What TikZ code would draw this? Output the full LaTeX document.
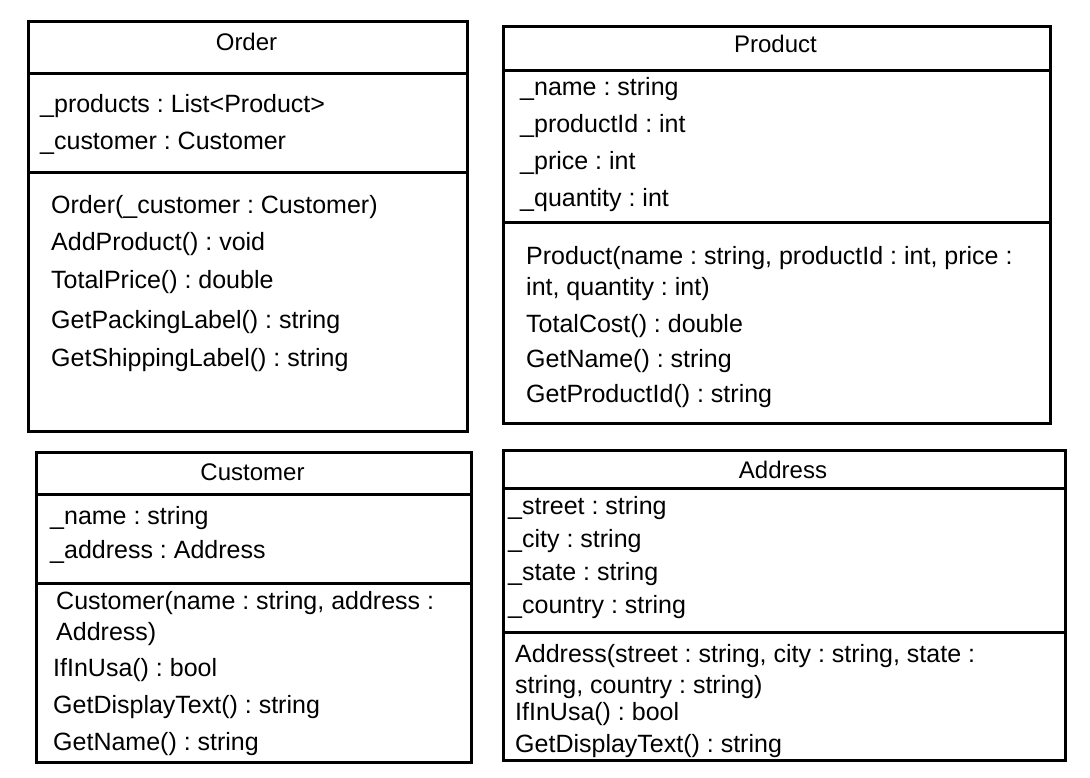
\documentclass[tikz,border=0pt]{standalone}
\usepackage{fontspec}
\setmainfont{Liberation Sans}
\frenchspacing
\begin{document}
\begin{tikzpicture}[x=1pt,y=-1pt,
  umlbox/.style={draw=black,line width=3pt,fill=white,inner sep=0pt,anchor=north west},
  divline/.style={draw=black,line width=3pt},
  row/.style={anchor=base west,inner sep=0pt,font=\fontsize{25}{29}\selectfont},
  ttl/.style={anchor=base,inner sep=0pt,font=\fontsize{24}{28}\selectfont}]
\useasboundingbox[fill=white] (0,0) rectangle (1090,777);
% boxes
\node[umlbox,minimum width=439pt,minimum height=410pt] (order) at (27,20) {};
\node[umlbox,minimum width=547pt,minimum height=397pt] (product) at (502,25) {};
\node[umlbox,minimum width=435pt,minimum height=310pt] (customer) at (35,451) {};
\node[umlbox,minimum width=562pt,minimum height=310pt] (address) at (502,449) {};
% dividers
\draw[divline] (order.west |- 0,73) -- (order.east |- 0,73);
\draw[divline] (order.west |- 0,172) -- (order.east |- 0,172);
\draw[divline] (product.west |- 0,70) -- (product.east |- 0,70);
\draw[divline] (product.west |- 0,222) -- (product.east |- 0,222);
\draw[divline] (customer.west |- 0,494) -- (customer.east |- 0,494);
\draw[divline] (customer.west |- 0,583) -- (customer.east |- 0,583);
\draw[divline] (address.west |- 0,488) -- (address.east |- 0,488);
\draw[divline] (address.west |- 0,632) -- (address.east |- 0,632);
% Order
\node[ttl] (ot) at (246.5,50) {Order};
\node[row] (oa1) at (40,112) {\_products : List<Product>};
\node[row] (oa2) at (40,149) {\_customer : Customer};
\node[row] (om1) at (51,213) {Order(\_customer : Customer)};
\node[row] (om2) at (51,250) {AddProduct() : void};
\node[row] (om3) at (51,288) {TotalPrice() : double};
\node[row] (om4) at (51,328) {GetPackingLabel() : string};
\node[row] (om5) at (51,366) {GetShippingLabel() : string};
% Product
\node[ttl] (pt) at (775.5,52) {Product};
\node[row] (pa1) at (520,95) {\_name : string};
\node[row] (pa2) at (520,132) {\_productId : int};
\node[row] (pa3) at (520,169) {\_price : int};
\node[row] (pa4) at (520,206) {\_quantity : int};
\node[row] (pm1) at (526,264) {Product(name : string, productId : int, price :};
\node[row] (pm2) at (526,295) {int, quantity : int)};
\node[row] (pm3) at (526,332) {TotalCost() : double};
\node[row] (pm4) at (526,367) {GetName() : string};
\node[row] (pm5) at (526,402) {GetProductId() : string};
% Customer
\node[ttl] (ct) at (252.5,480) {Customer};
\node[row] (ca1) at (50,524) {\_name : string};
\node[row] (ca2) at (50,558) {\_address : Address};
\node[row] (cm1) at (56,609) {Customer(name : string, address :};
\node[row] (cm2) at (56,640) {Address)};
\node[row] (cm3) at (53,676) {IfInUsa() : bool};
\node[row] (cm4) at (53,713) {GetDisplayText() : string};
\node[row] (cm5) at (53,750) {GetName() : string};
% Address
\node[ttl] (at) at (783,478) {Address};
\node[row] (aa1) at (508,514) {\_street : string};
\node[row] (aa2) at (508,547) {\_city : string};
\node[row] (aa3) at (508,580) {\_state : string};
\node[row] (aa4) at (508,613) {\_country : string};
\node[row] (am1) at (515,662) {Address(street : string, city : string, state :};
\node[row] (am2) at (515,693) {string, country : string)};
\node[row] (am3) at (515,720) {IfInUsa() : bool};
\node[row] (am4) at (515,752) {GetDisplayText() : string};
\end{tikzpicture}
\end{document}
